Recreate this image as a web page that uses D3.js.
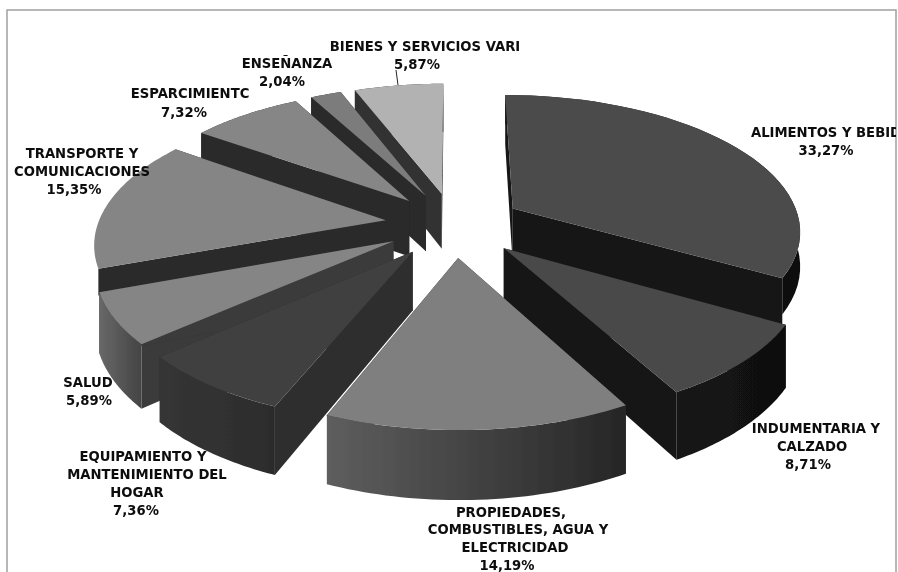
<!DOCTYPE html>
<html><head><meta charset="utf-8">
<script src="https://cdn.jsdelivr.net/npm/d3@7/dist/d3.min.js"></script>
<style>html,body{margin:0;padding:0;background:#fff}svg{display:block}
text{font-family:"DejaVu Sans",sans-serif;font-weight:700;font-size:13.2px;fill:#0a0a0a;text-anchor:middle}</style>
</head><body><svg id="c" width="898" height="572"></svg>
<script>
const categories = ["ALIMENTOS Y BEBIDAS","INDUMENTARIA Y CALZADO","PROPIEDADES, COMBUSTIBLES, AGUA Y ELECTRICIDAD","EQUIPAMIENTO Y MANTENIMIENTO DEL HOGAR","SALUD","TRANSPORTE Y COMUNICACIONES","ESPARCIMIENTO","ENSEÑANZA","BIENES Y SERVICIOS VARIOS"];
const values = [33.27,8.71,14.19,7.36,5.89,15.35,7.32,2.04,5.87];
const topFill = ["#4c4c4c","#484848","#7f7f7f","#404040","#858585","#858585","#868686","#7c7c7c","#b2b2b2"];
const cutFill = ["#171717","#141414","#2c2c2c","#2e2e2e","#3a3a3a","#2a2a2a","#2a2a2a","#2a2a2a","#333333"];
const rimLight = ["#171717","#141414","#5e5e5e","#353535","#686868","#2a2a2a","#2a2a2a","#2a2a2a","#333333"];
const rimDark = ["#101010","#101010","#262626","#2c2c2c","#444444","#2a2a2a","#2a2a2a","#2a2a2a","#333333"];
const rimDepth = [0.6,1,1,1,1,0,1,1,1];
const cutDepth = [1,1,1,1,1,0.45,1,1,1];
const drawOrder = [8,7,6,5,0,4,3,1,2];
const labelLines = [
 [["ALIMENTOS Y BEBID",826,137],["33,27%",826,155]],
 [["INDUMENTARIA Y",816,433],["CALZADO",812,451],["8,71%",808,469]],
 [["PROPIEDADES,",511,517],["COMBUSTIBLES, AGUA Y",518,534],["ELECTRICIDAD",515,552],["14,19%",507,570]],
 [["EQUIPAMIENTO Y",143,461],["MANTENIMIENTO DEL",147,479],["HOGAR",137,497],["7,36%",136,515]],
 [["SALUD",88,387],["5,89%",89,405]],
 [["TRANSPORTE Y",82,158],["COMUNICACIONES",82,176],["15,35%",74,194]],
 [["ESPARCIMIENTC",190,98],["7,32%",184,117]],
 [["ENSEÑANZA",287,68],["2,04%",282,86]],
 [["BIENES Y SERVICIOS VARI",425,51],["5,87%",417,69]]
];
const svg = d3.select("#c");
const defs = svg.append("defs");
defs.append("filter").attr("id","soft").append("feGaussianBlur").attr("stdDeviation",0.45);
defs.append("clipPath").attr("id","frameClip").append("rect").attr("x",7).attr("y",10).attr("width",889).attr("height",562);

const cx=454, cy=224.5, RX=288, RY=135, explode=0.24, persp=0.15, depth=57;
const xs=d3.scaleLinear().domain([0,1]).range([0,RX]);
const ys=d3.scaleLinear().domain([0,1]).range([0,RY]);
function project(a,r,mid,z){
  const X=explode*Math.sin(mid)+r*Math.sin(a), V=explode*Math.cos(mid)+r*Math.cos(a), s=1/(1+persp*V);
  return [cx+xs(X)*s, cy-ys(V)*s+depth*z*s];
}
const pie=d3.pie().sort(null).value(d=>d)(values);
const line=d3.line();
const root=svg.append("g").attr("filter","url(#soft)");
root.append("path").attr("d",line([[7,572],[7,10],[896,10],[896,572]])).attr("fill","none").attr("stroke","#a0a0a0").attr("stroke-width",1.5);
drawOrder.forEach(i=>{
  const p=pie[i], a0=p.startAngle, a1=p.endAngle, mid=(a0+a1)/2;
  const arc=d3.range(0,41).map(k=>a0+(a1-a0)*k/40);
  const g=root.append("g");
  const top=arc.map(a=>project(a,1,mid,0)), bot=arc.map(a=>project(a,1,mid,rimDepth[i]));
  const c0=project(0,0,mid,0), c1=project(0,0,mid,1);
  g.append("path").attr("d",line([c0,top[0],project(a0,1,mid,cutDepth[i]),c1])+"Z").attr("fill",cutFill[i]);
  g.append("path").attr("d",line([c0,top[40],project(a1,1,mid,cutDepth[i]),c1])+"Z").attr("fill",cutFill[i]);
  const ext=d3.extent(top,d=>d[0]);
  const gid="rim"+i;
  const lg=defs.append("linearGradient").attr("id",gid).attr("gradientUnits","userSpaceOnUse").attr("x1",ext[0]).attr("x2",ext[1]).attr("y1",0).attr("y2",0);
  lg.append("stop").attr("offset",0).attr("stop-color",rimLight[i]);
  lg.append("stop").attr("offset",1).attr("stop-color",rimDark[i]);
  g.append("path").attr("d",line(top.concat(bot.slice().reverse()))+"Z").attr("fill",`url(#${gid})`);
  g.append("path").attr("d",line([c0].concat(top))+"Z").attr("fill",topFill[i]);
});
root.append("path").attr("d",line([[396,70],[398,85]])).attr("stroke","#222").attr("stroke-width",1).attr("fill","none");
const tg=root.append("g").attr("clip-path","url(#frameClip)");
labelLines.forEach(ls=>ls.forEach(l=>tg.append("text").attr("x",l[1]).attr("y",l[2]).text(l[0])));
</script></body></html>
